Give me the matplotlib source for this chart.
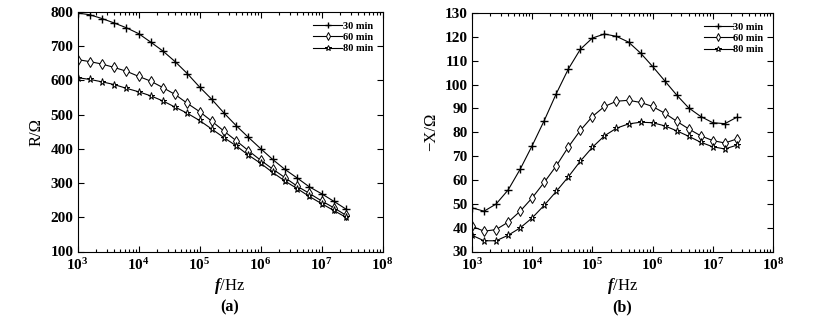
import numpy as np
import matplotlib
matplotlib.use("Agg")
import matplotlib.pyplot as plt
from matplotlib.ticker import LogLocator, NullFormatter

plt.rcParams['font.family'] = ['Liberation Serif', 'DejaVu Serif']
plt.rcParams['font.weight'] = 'bold'
plt.rcParams['mathtext.fontset'] = 'custom'
plt.rcParams['mathtext.rm'] = 'Liberation Serif:bold'
plt.rcParams['mathtext.it'] = 'Liberation Serif:bold:italic'
plt.rcParams['mathtext.default'] = 'regular'

# frequency exponents: 5 points per decade from 1e3 to ~2.5e7
exponents = [3 + k / 5 for k in range(23)]
freq = [10 ** e for e in exponents]

series_names = ['30 min', '60 min', '80 min']

R_30 = [797, 792, 781, 768, 754, 737, 712, 686, 655, 620, 581, 545, 505, 468,
        434, 401, 369, 340, 315, 289, 269, 247, 224]
R_60 = [661, 655, 648, 638, 627, 612, 598, 579, 559, 533, 509, 481, 452, 424,
        395, 367, 341, 316, 291, 270, 248, 228, 206]
R_80 = [608, 603, 596, 588, 577, 567, 555, 540, 522, 504, 483, 458, 433, 409,
        382, 358, 331, 306, 284, 261, 240, 220, 200]

X_30 = [48.3, 46.9, 49.9, 55.8, 64.5, 74.4, 84.9, 96.2, 106.5, 114.8, 119.5, 121.2,
        120.2, 117.8, 113.2, 107.6, 101.6, 95.6, 90.2, 86.6, 84.0, 83.6, 86.3]
X_60 = [40.6, 38.5, 39.2, 42.3, 46.9, 52.5, 59.0, 65.9, 73.8, 80.8, 86.6, 90.8,
        93.0, 93.4, 92.5, 90.8, 88.0, 84.6, 81.4, 78.5, 76.5, 75.5, 77.2]
X_80 = [36.8, 34.5, 34.5, 36.8, 39.9, 44.1, 49.4, 55.2, 61.3, 67.9, 73.7, 78.5,
        81.7, 83.5, 84.2, 84.0, 82.7, 80.6, 78.3, 75.8, 73.9, 73.0, 74.6]

markers = ['+', 'd', '*']
msizes = [6.0, 4.8, 5.2]
mews = [1.0, 0.7, 0.7]

fig = plt.figure(figsize=(8.22, 3.26), dpi=100)
W, H = 822, 326
axL = fig.add_axes([77.5 / W, 1 - 251.5 / H, (382.5 - 77.5) / W, (251.5 - 12) / H])
axR = fig.add_axes([472 / W, 1 - 251.5 / H, (773 - 472) / W, (251.5 - 13) / H])

def style(ax):
    ax.set_xscale('log')
    ax.set_xlim(1e3, 1e8)
    ax.xaxis.set_major_locator(LogLocator(base=10, numticks=10))
    ax.xaxis.set_minor_locator(LogLocator(base=10, subs=np.arange(2, 10), numticks=100))
    ax.xaxis.set_minor_formatter(NullFormatter())
    ax.tick_params(which='both', direction='in', top=True, right=True,
                   labelsize=11, width=0.8)
    ax.tick_params(axis='x', which='both', pad=4)
    ax.tick_params(axis='y', which='both', pad=3)
    ax.tick_params(which='major', length=4)
    ax.tick_params(which='minor', length=2.5)
    for s in ax.spines.values():
        s.set_linewidth(0.8)
    ax.set_xlabel(r'$\mathit{f}$/Hz', fontsize=12, labelpad=2)
    for lab in ax.get_xticklabels() + ax.get_yticklabels():
        lab.set_fontweight('bold')

for ax, data in ((axL, [R_30, R_60, R_80]), (axR, [X_30, X_60, X_80])):
    for ys, name, m, ms, mw in zip(data, series_names, markers, msizes, mews):
        ax.plot(freq, ys, color='black', lw=0.8, marker=m, ms=ms, mfc='white',
                mec='black', mew=mw, label=name)

style(axL)
style(axR)
axL.set_ylim(100, 800)
axL.set_yticks(range(100, 801, 100))
axR.set_ylim(30, 130)
axR.set_yticks(range(30, 131, 10))
axL.set_ylabel('R/Ω', fontsize=12, labelpad=4)
axR.set_ylabel('\u2212X/Ω', fontsize=12, labelpad=4)

for ax in (axL, axR):
    leg = ax.legend(loc='upper right', frameon=False, fontsize=7.5,
                    handlelength=2.8, handletextpad=0.05, labelspacing=0.2,
                    borderaxespad=0.5, markerscale=0.8)
    for t in leg.get_texts():
        t.set_fontweight('bold')

fig.text((77.5 + 382.5) / 2 / W, 1 - 307 / H, '(a)', ha='center', va='center',
         fontsize=11.5, fontweight='bold')
fig.text((472 + 773) / 2 / W, 1 - 307 / H, '(b)', ha='center', va='center',
         fontsize=11.5, fontweight='bold')

fig.savefig('out.png', dpi=100)
